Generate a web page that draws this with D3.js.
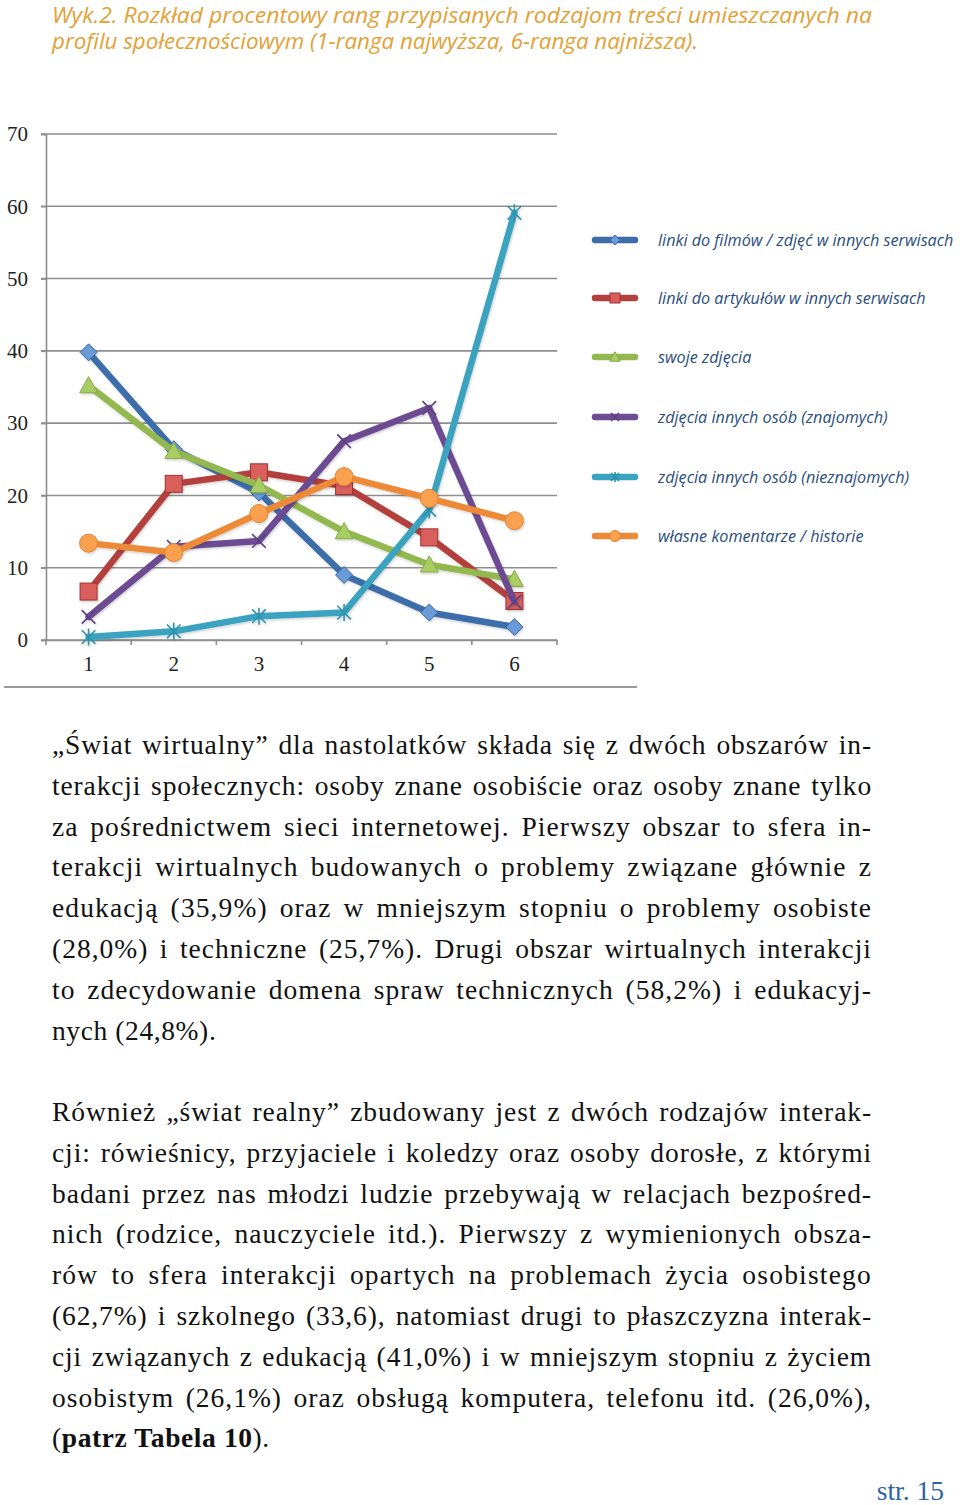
<!DOCTYPE html>
<html><head><meta charset="utf-8">
<script src="https://cdn.jsdelivr.net/npm/d3@7"></script>
<style>
html,body{margin:0;padding:0;background:#fff;}
svg{display:block;}
</style></head>
<body>
<script>
// ---------- data ----------
const categories = [1, 2, 3, 4, 5, 6];
const yTicks = [0, 10, 20, 30, 40, 50, 60, 70];
const seriesNames = [
  "linki do filmów / zdjęć w innych serwisach",
  "linki do artykułów w innych serwisach",
  "swoje zdjęcia",
  "zdjęcia innych osób (znajomych)",
  "zdjęcia innych osób (nieznajomych)",
  "własne komentarze / historie"
];
const valsFilmy      = [39.8, 26.4, 20.4, 9.0, 3.8, 1.8];
const valsArtykuly   = [6.7, 21.6, 23.2, 21.3, 14.2, 5.4];
const valsSwoje      = [35.2, 26.1, 21.4, 15.0, 10.4, 8.4];
const valsZnajomi    = [3.2, 12.9, 13.7, 27.5, 32.1, 5.3];
const valsNieznajomi = [0.4, 1.2, 3.3, 3.8, 18.0, 59.1];
const valsKomentarze = [13.4, 12.1, 17.5, 22.6, 19.6, 16.5];
const seriesValues = [valsFilmy, valsArtykuly, valsSwoje, valsZnajomi, valsNieznajomi, valsKomentarze];

const titleLines = [
  "Wyk.2. Rozkład procentowy rang przypisanych rodzajom treści umieszczanych na",
  "profilu społecznościowym (1-ranga najwyższa, 6-ranga najniższa)."
];
const para1 = [
  "„Świat wirtualny” dla nastolatków składa się z dwóch obszarów in-",
  "terakcji społecznych: osoby znane osobiście oraz osoby znane tylko",
  "za pośrednictwem sieci internetowej. Pierwszy obszar to sfera in-",
  "terakcji wirtualnych budowanych o problemy związane głównie z",
  "edukacją (35,9%) oraz w mniejszym stopniu o problemy osobiste",
  "(28,0%) i techniczne (25,7%). Drugi obszar wirtualnych interakcji",
  "to zdecydowanie domena spraw technicznych (58,2%) i edukacyj-",
  "nych (24,8%)."
];
const para2 = [
  "Również „świat realny” zbudowany jest z dwóch rodzajów interak-",
  "cji: rówieśnicy, przyjaciele i koledzy oraz osoby dorosłe, z którymi",
  "badani przez nas młodzi ludzie przebywają w relacjach bezpośred-",
  "nich (rodzice, nauczyciele itd.). Pierwszy z wymienionych obsza-",
  "rów to sfera interakcji opartych na problemach życia osobistego",
  "(62,7%) i szkolnego (33,6), natomiast drugi to płaszczyzna interak-",
  "cji związanych z edukacją (41,0%) i w mniejszym stopniu z życiem",
  "osobistym (26,1%) oraz obsługą komputera, telefonu itd. (26,0%),"
];
const lastLineParts = [["(", false], ["patrz Tabela 10", true], [").", false]];
const pageLabel = "str. 15";

// ---------- styles ----------
const lineColors   = ["#3e6eaa", "#b3403d", "#93b84f", "#6c4c93", "#3aa3bf", "#ec8a38"];
const markerFills  = ["#6b9bd9", "#d95f5c", "#a9cd63", "#8a6bb2", "#5cc0da", "#f9a14f"];
const markerStroke = ["#3a64a0", "#9f3330", "#86aa47", "#5d3f82", "#2f93ae", "#e0812f"];
const markerTypes  = ["diamond", "square", "triangle", "x", "star", "circle"];

const W = 960, H = 1505;
const svg = d3.select("body").append("svg").attr("width", W).attr("height", H);

// title
const titleWidths = [820, 646];
svg.append("g").selectAll("text").data(titleLines).join("text")
  .attr("x", 52).attr("y", (d, i) => 22.5 + i * 26)
  .attr("font-family", "'Open Sans', sans-serif").attr("font-style", "italic")
  .attr("font-size", 21).attr("fill", "#e3a136")
  .attr("textLength", (d, i) => titleWidths[i]).attr("lengthAdjust", "spacingAndGlyphs")
  .text(d => d);

// scales
const x = d3.scaleBand().domain(categories).range([46, 557]).padding(0);
const y = d3.scaleLinear().domain([0, 70]).range([640, 134]);
const cx = d => x(d) + x.bandwidth() / 2;

// gridlines
svg.append("g").selectAll("line").data(yTicks).join("line")
  .attr("x1", 41).attr("x2", 557)
  .attr("y1", d => y(d)).attr("y2", d => y(d))
  .attr("stroke", "#8e8e8e").attr("stroke-width", 1.6);

// y axis
const yAxis = svg.append("g").attr("transform", "translate(46,0)")
  .call(d3.axisLeft(y).tickValues(yTicks).tickSize(5).tickPadding(13));
yAxis.select(".domain").attr("stroke", "#8e8e8e").attr("stroke-width", 1.6);
yAxis.selectAll(".tick line").attr("stroke", "#8e8e8e").attr("stroke-width", 1.6);
yAxis.selectAll(".tick text").attr("font-family", "'Liberation Serif', serif")
  .attr("font-size", 21).attr("fill", "#222");

// x axis
const xAxis = svg.append("g").attr("transform", "translate(0,640)")
  .call(d3.axisBottom(x).tickSize(0).tickPadding(16));
xAxis.select(".domain").attr("stroke", "#8e8e8e").attr("stroke-width", 1.6);
xAxis.selectAll(".tick text").attr("font-family", "'Liberation Serif', serif")
  .attr("font-size", 21).attr("fill", "#222");
// x tick marks at band boundaries
svg.append("g").selectAll("line").data(categories.concat(["end"])).join("line")
  .attr("x1", d => d === "end" ? x.range()[1] : x(d))
  .attr("x2", d => d === "end" ? x.range()[1] : x(d))
  .attr("y1", 640).attr("y2", 645)
  .attr("stroke", "#8e8e8e").attr("stroke-width", 1.6);

// bottom separator
svg.append("line").attr("x1", 4).attr("x2", 637).attr("y1", 687).attr("y2", 687)
  .attr("stroke", "#9a9a9a").attr("stroke-width", 2);

// shadow filter
const defs = svg.append("defs");
const f = defs.append("filter").attr("id", "sh").attr("x", "-20%").attr("y", "-20%").attr("width", "140%").attr("height", "140%");
f.append("feDropShadow").attr("dx", 1).attr("dy", 1.5).attr("stdDeviation", 1.2).attr("flood-color", "#000").attr("flood-opacity", 0.18);

function drawMarker(g, type, s, fill, stroke, strokeColor) {
  if (type === "diamond") {
    g.append("path").attr("d", `M0,${-s}L${s},0L0,${s}L${-s},0Z`)
      .attr("fill", fill).attr("stroke", stroke).attr("stroke-width", 1);
  } else if (type === "square") {
    g.append("rect").attr("x", -s).attr("y", -s).attr("width", 2 * s).attr("height", 2 * s)
      .attr("fill", fill).attr("stroke", stroke).attr("stroke-width", 1);
  } else if (type === "triangle") {
    g.append("path").attr("d", `M0,${-s * 1.05}L${s * 1.05},${s * 0.85}L${-s * 1.05},${s * 0.85}Z`)
      .attr("fill", fill).attr("stroke", stroke).attr("stroke-width", 1);
  } else if (type === "x") {
    const a = s * 0.8;
    g.append("path").attr("d", `M${-a},${-a}L${a},${a}M${a},${-a}L${-a},${a}`)
      .attr("stroke", strokeColor).attr("stroke-width", 1.6).attr("fill", "none");
  } else if (type === "star") {
    const a = s * 0.8;
    g.append("path").attr("d", `M${-a},${-a}L${a},${a}M${a},${-a}L${-a},${a}M0,${-s}L0,${s}`)
      .attr("stroke", strokeColor).attr("stroke-width", 1.6).attr("fill", "none");
  } else if (type === "circle") {
    g.append("circle").attr("r", s).attr("fill", fill).attr("stroke", stroke).attr("stroke-width", 1);
  }
}

const line = d3.line().x((d, i) => cx(categories[i])).y(d => y(d));
const plot = svg.append("g");
seriesValues.forEach((vals, si) => {
  const g = plot.append("g").attr("filter", "url(#sh)");
  g.append("path").datum(vals).attr("d", line)
    .attr("fill", "none").attr("stroke", lineColors[si]).attr("stroke-width", 6.5)
    .attr("stroke-linejoin", "round").attr("stroke-linecap", "round");
  vals.forEach((v, i) => {
    const mg = g.append("g").attr("transform", `translate(${cx(categories[i])},${y(v)})`);
    drawMarker(mg, markerTypes[si], markerTypes[si] === "circle" ? 9 : 8.5, markerFills[si], markerStroke[si], markerStroke[si]);
  });
});

// legend
const legendY = [240, 298, 357, 417, 477, 536];
const lg = svg.append("g");
seriesNames.forEach((name, si) => {
  const g = lg.append("g").attr("transform", `translate(0,${legendY[si]})`);
  g.append("line").attr("x1", 595).attr("x2", 635).attr("y1", 0).attr("y2", 0)
    .attr("stroke", lineColors[si]).attr("stroke-width", 6.5).attr("stroke-linecap", "round");
  const mg = g.append("g").attr("transform", "translate(615,0)");
  drawMarker(mg, markerTypes[si], markerTypes[si] === "circle" ? 5.5 : 5, markerFills[si], markerStroke[si], markerStroke[si]);
  g.append("text").attr("x", 658).attr("y", 6)
    .attr("font-family", "'Open Sans', sans-serif").attr("font-style", "italic")
    .attr("font-size", 16.2).attr("fill", "#2a4e7c").text(name);
});

// body text (justified)
const bodyFont = "'Liberation Serif', serif";
const bodySize = 27.5;
const baseLetter = 0.6;
const left = 52, right = 872;
function justifiedLines(lines, y0, justifyLast) {
  lines.forEach((t, i) => {
    const txt = svg.append("text").attr("x", left).attr("y", y0 + i * 40.8)
      .attr("font-family", bodyFont).attr("font-size", bodySize).attr("fill", "#111")
      .attr("letter-spacing", baseLetter)
      .text(t);
    if (i < lines.length - 1 || justifyLast) {
      const w = txt.node().getComputedTextLength();
      const spaces = (t.match(/ /g) || []).length;
      const slack = right - left - w;
      const extraLetter = Math.max(0, Math.min(0.6, slack * 0.5 / t.length));
      txt.attr("letter-spacing", baseLetter + extraLetter);
      const w2 = txt.node().getComputedTextLength();
      if (spaces > 0) txt.attr("word-spacing", (right - left - w2) / spaces);
    }
  });
}
justifiedLines(para1, 754, false);
justifiedLines(para2, 1121, true);
const last = svg.append("text").attr("x", left).attr("y", 1121 + 8 * 40.8)
  .attr("font-family", bodyFont).attr("font-size", bodySize).attr("fill", "#111")
  .attr("letter-spacing", baseLetter);
lastLineParts.forEach(([t, b]) => last.append("tspan").attr("font-weight", b ? "bold" : "normal").text(t));

// page label
svg.append("text").attr("x", 944).attr("y", 1500).attr("text-anchor", "end")
  .attr("font-family", bodyFont).attr("font-size", 27.5).attr("fill", "#2f64a3").text(pageLabel);
</script>
</body></html>
